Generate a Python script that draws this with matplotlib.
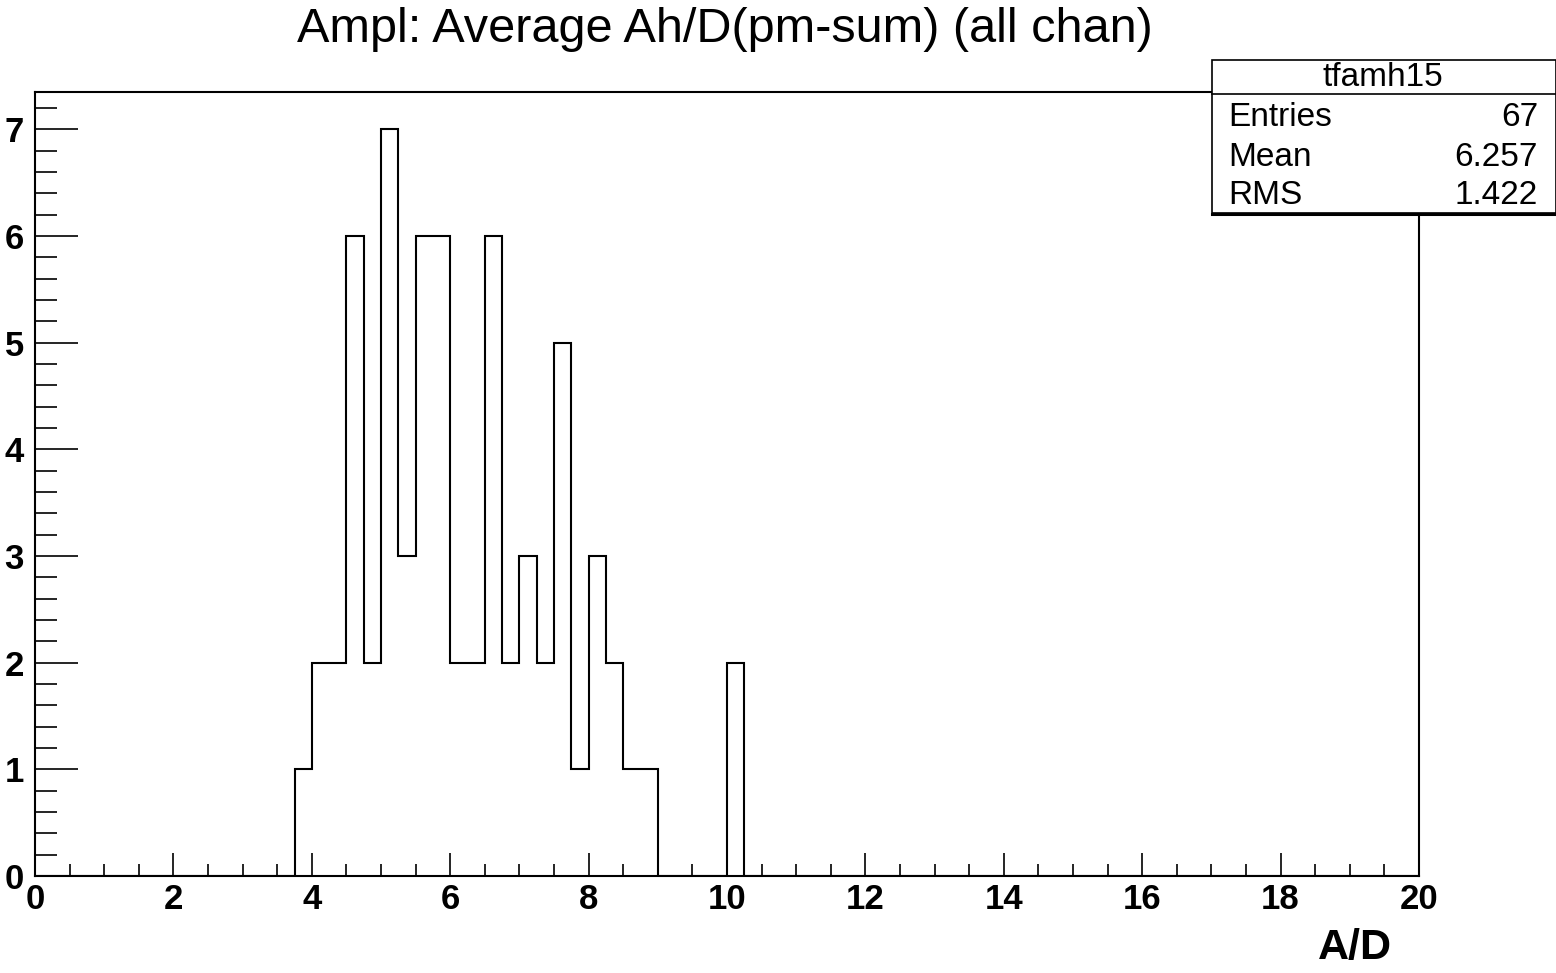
import numpy as np
import matplotlib.pyplot as plt
from matplotlib.patches import Rectangle
from matplotlib.lines import Line2D
from matplotlib.ticker import MultipleLocator

plt.rcParams['font.family'] = ['Liberation Sans', 'DejaVu Sans']

# histogram tfamh15: 80 bins of 0.25 between 0 and 20, only non-empty bins listed
n_bins = 80
x_min, x_max = 0.0, 20.0
bin_left = [3.75, 4.0, 4.25, 4.5, 4.75, 5.0, 5.25, 5.5, 5.75, 6.0, 6.25,
            6.5, 6.75, 7.0, 7.25, 7.5, 7.75, 8.0, 8.25, 8.5, 8.75, 10.0]
bin_count = [1, 2, 2, 6, 2, 7, 3, 6, 6, 2, 2,
             6, 2, 3, 2, 5, 1, 3, 2, 1, 1, 2]

title = "Ampl: Average Ah/D(pm-sum) (all chan)"
hist_name = "tfamh15"
stat_labels = ["Entries", "Mean", "RMS"]
stat_values = ["67", "6.257", "1.422"]
x_label = "A/D"

edges = np.linspace(x_min, x_max, n_bins + 1)
counts = np.zeros(n_bins)
for lo, c in zip(bin_left, bin_count):
    counts[int(round((lo - x_min) / (edges[1] - edges[0])))] = c

W, H = 1556, 973
fig = plt.figure(figsize=(W / 100, H / 100), dpi=100)
ax = fig.add_axes([35 / W, 1 - 876 / H, (1419 - 35) / W, (876 - 92) / H])

ax.stairs(counts, edges, color='black', linewidth=1.5)
ax.set_xlim(x_min, x_max)
ax.set_ylim(0, counts.max() * 1.05)

ax.xaxis.set_major_locator(MultipleLocator(2))
ax.xaxis.set_minor_locator(MultipleLocator(0.5))
ax.yaxis.set_major_locator(MultipleLocator(1))
ax.yaxis.set_minor_locator(MultipleLocator(0.2))
ax.tick_params(axis='x', which='major', direction='in', length=16.5, width=1.2,
               labelsize=25, pad=5, top=False)
ax.tick_params(axis='x', which='minor', direction='in', length=8.5, width=1.2, top=False)
ax.tick_params(axis='y', which='major', direction='in', length=31, width=1.2,
               labelsize=25, pad=8, right=False)
ax.tick_params(axis='y', which='minor', direction='in', length=16, width=1.2, right=False)
for lab in ax.get_xticklabels() + ax.get_yticklabels():
    lab.set_fontweight('bold')
for s in ax.spines.values():
    s.set_linewidth(1.5)

fig.text(725 / W, 1 - 29 / H, title, ha='center', va='center', fontsize=35)
fig.text(1392 / W, 1 - 948 / H, x_label, ha='right', va='center',
         fontsize=31, fontweight='bold')

# stats box
bx0, bx1, by0, by1 = 1212, 1556, 60, 213
fig.patches.append(Rectangle((bx0 / W, 1 - by1 / H), (bx1 - bx0) / W, (by1 - by0) / H,
                             transform=fig.transFigure, facecolor='white',
                             edgecolor='black', linewidth=1.2, zorder=5))
fig.lines.append(Line2D([bx0 / W, bx1 / W], [1 - 94 / H, 1 - 94 / H],
                        transform=fig.transFigure, color='black', linewidth=1.2, zorder=6))
fig.lines.append(Line2D([bx0 / W, bx1 / W], [1 - 214 / H, 1 - 214 / H],
                        transform=fig.transFigure, color='black', linewidth=2.2, zorder=6))
fig.text(1383 / W, 1 - 78 / H, hist_name, ha='center', va='center', fontsize=24, zorder=7)
for i, (lab, val) in enumerate(zip(stat_labels, stat_values)):
    y = 1 - (118 + 39 * i) / H
    fig.text(1228 / W, y, lab, ha='left', va='center', fontsize=24, zorder=7)
    fig.text(1538 / W, y, val, ha='right', va='center', fontsize=24, zorder=7)

fig.savefig('out.png', dpi=100)
